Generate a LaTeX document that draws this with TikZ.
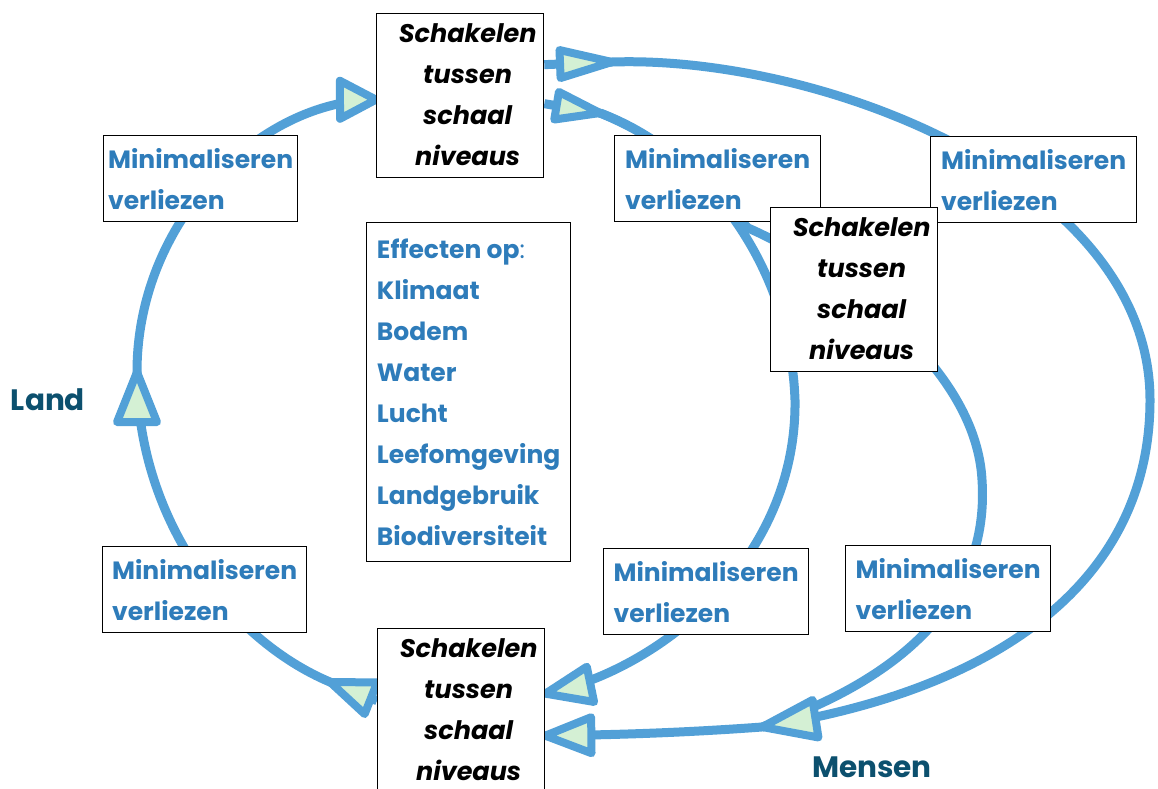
\documentclass[tikz,border=0pt]{standalone}
\usepackage{fontspec}
\setmainfont{Poppins}
\usetikzlibrary{decorations.markings}

\definecolor{flowblue}{RGB}{82,160,215}
\definecolor{textblue}{RGB}{46,124,186}
\definecolor{labelteal}{RGB}{12,80,110}
\definecolor{trigreen}{RGB}{212,240,212}

\pgfdeclarelayer{bg}
\pgfdeclarelayer{lines}
\pgfsetlayers{bg,lines,main}

\newcommand\lossfont{\fontsize{25}{41}\selectfont\bfseries}
\newcommand\linkfont{\fontsize{25.5}{41}\selectfont\bfseries\itshape}
\newcommand\sidefont{\fontsize{29.5}{36}\selectfont\bfseries}
% open triangle marker, tip at the mark point
\newcommand\flowtri[2]{\draw[flowblue, fill=trigreen, line width=8pt, line join=round]
  (0pt,0pt) -- (-#1pt,#2pt) -- (-#1pt,-#2pt) -- cycle;}
\newcommand\linktext{\hspace*{15pt}\begin{tabular}{@{}c@{}}Schakelen\\tussen\\schaal\\niveaus\end{tabular}}

\tikzset{
  flow/.style={draw=flowblue, line width=9pt},
  endtri/.style 2 args={postaction={decorate, decoration={markings,
      mark=at position 0.9999 with {\flowtri{#1}{#2}}}}},
  lossbox/.style={draw=black, line width=1.3pt, fill=white, text=textblue,
      font=\lossfont, align=left, anchor=north west, inner sep=0pt,
      minimum width=205pt, minimum height=86pt},
  linkbox/.style={draw=black, line width=1.3pt, fill=white, text=black,
      font=\linkfont, anchor=north west, inner sep=0pt,
      minimum width=167pt, minimum height=160pt},
  effbox/.style={draw=black, line width=1.3pt, fill=white, text=textblue,
      font=\lossfont, align=left, anchor=north west, inner sep=0pt,
      minimum width=204pt, minimum height=339pt},
  sidelabel/.style={text=labelteal, font=\sidefont, inner sep=0pt, anchor=base}
}

\begin{document}
\begin{tikzpicture}[x=1pt,y=-1pt]
\useasboundingbox (0,0) rectangle (1158,788);
\begin{pgfonlayer}{bg}
  \fill[white] (0,0) rectangle (1158,788);
\end{pgfonlayer}

% loss boxes
\node[lossbox, minimum width=194pt] (L1) at (103,135) {Minimaliseren\\verliezen};
\node[lossbox, minimum width=204pt] (L2) at (102,546) {Minimaliseren\\verliezen};
\node[lossbox, minimum width=206pt] (M1) at (614,135) {Minimaliseren\\verliezen};
\node[lossbox, minimum width=206pt] (R1) at (930,136) {Minimaliseren\\verliezen};
\node[lossbox] (M2) at (603,548) {Minimaliseren\\verliezen};
\node[lossbox] (R2) at (845,545) {Minimaliseren\\verliezen};

% switching boxes between scale levels
\node[linkbox] (T) at (376,13) {\linktext};
\node[linkbox, minimum height=164pt] (B) at (377,628) {\linktext};
\node[linkbox] (M) at (770,207) {\linktext};

% effects list
\node[effbox] (E) at (366,222) {Effecten op{\mdseries :}\\Klimaat\\Bodem\\Water\\Lucht\\Leefomgeving\\Landgebruik\\Biodiversiteit};

% side labels
\node[sidelabel] (land) at (48,410) {Land};
\node[sidelabel] (mensen) at (872,777) {Mensen};

% junction points of the cycles
\coordinate (lt1) at (330,682);
\coordinate (lt2) at (137,372);
\coordinate (ot1) at (612,62);
\coordinate (ot2) at (762,727);
\coordinate (at1) at (600,113);

\begin{pgfonlayer}{lines}
  % land cycle
  \draw[flow, endtri={44}{17}] ([yshift=10pt]B.west) -- (lt1);
  \draw[flow, endtri={50}{20}] (lt1) .. controls (230,640) and (137,520) .. (lt2);
  \draw[flow, endtri={36}{19}] (lt2) .. controls (137,220) and (260,100) .. ([yshift=-4pt]T.west);
  % branch through the middle switching box
  \draw[flow] (at1) .. controls (690,150) and (725,205) .. (748,228)
     .. controls (800,250) and (975,350) .. (982,480)
     .. controls (990,600) and (900,680) .. (ot2);
  % outer cycle
  \draw[flow, endtri={52}{14}] ([yshift=31pt]T.east) -- (ot1);
  \draw[flow, endtri={54}{19}] (ot1) .. controls (820,55) and (1150,180) .. (1150,400)
     .. controls (1150,580) and (1000,690) .. (ot2);
  \draw[flow, endtri={46}{18}] (ot2) .. controls (680,733) and (610,735) .. ([yshift=-25pt]B.east);
  % inner cycle
  \draw[flow, endtri={44}{14}] ([yshift=-8pt]T.east) -- (at1);
  \draw[flow, endtri={46}{18}] (at1) .. controls (700,150) and (790,260) .. (795,400)
     .. controls (797,560) and (660,670) .. ([yshift=17pt]B.east);
\end{pgfonlayer}
\end{tikzpicture}
\end{document}
